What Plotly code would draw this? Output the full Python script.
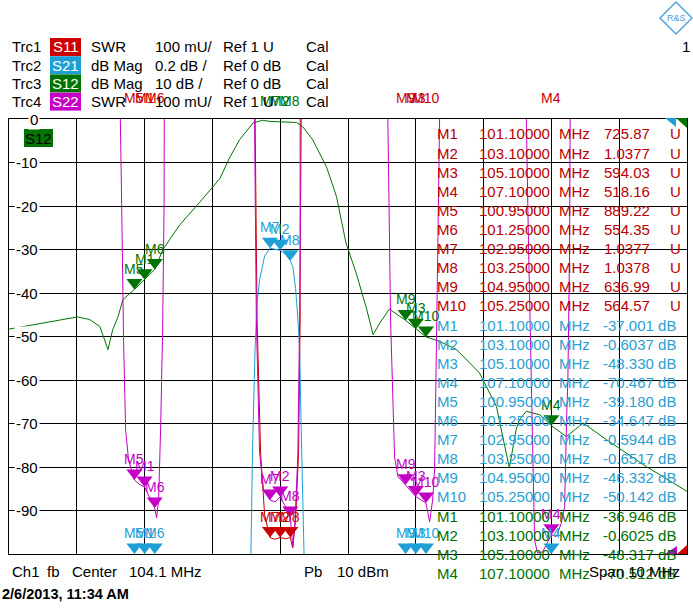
import numpy as np
import plotly.graph_objects as go

# ---------------- instrument / screen settings ----------------
F_CENTER = 104.1      # MHz
F_SPAN = 10.0         # MHz
F_START = F_CENTER - F_SPAN / 2
F_STOP = F_CENTER + F_SPAN / 2
Y_TOP, Y_BOT = 0.0, -100.0
Y_LABELS = [0, -10, -20, -30, -40, -50, -60, -70, -80, -90]

# ---------------- traces ----------------
# Trc3  S12  dB Mag 10 dB/div  Ref 0 dB (top)
s12_freq = [99.10, 99.60, 100.11, 100.29, 100.44, 100.56, 100.63, 100.71, 100.78, 100.95,
            101.10, 101.25, 101.37, 101.62, 101.91, 102.10, 102.21, 102.35, 102.50, 102.70,
            102.84, 102.95, 103.10, 103.25, 103.34, 103.43, 103.58, 103.78, 103.93, 104.07,
            104.22, 104.37, 104.47, 104.57, 104.71, 104.95, 105.10, 105.25, 105.45, 105.70,
            106.04, 106.29, 106.34, 106.39, 106.48, 106.58, 106.63, 106.73, 106.93, 107.10,
            107.32, 107.57, 107.91, 108.50, 109.10]
s12_db = [-48.3, -46.9, -45.5, -46.1, -47.7, -53.0, -48.4, -45.4, -41.5, -39.2,
          -36.95, -34.6, -30.0, -24.3, -19.2, -15.8, -13.7, -9.0, -4.8, -0.9,
          -0.3, -0.55, -0.60, -0.62, -0.8, -1.7, -4.8, -10.9, -17.8, -28.5,
          -35.4, -43.4, -49.6, -46.9, -43.7, -46.3, -48.3, -50.1, -51.1, -53.0,
          -58.4, -66.1, -69.9, -73.7, -80.2, -71.4, -69.1, -67.2, -68.0, -70.5,
          -73.0, -69.9, -73.7, -79.9, -85.6]

# Trc2  S21  dB Mag 0.2 dB/div  Ref 0 dB (top)
s21_freq = [99.10, 102.649, 102.668, 102.693, 102.730, 102.759, 102.796, 102.870, 102.950,
            103.100, 103.171, 103.249, 103.287, 103.327, 103.361, 103.386, 103.408, 103.435,
            103.460, 109.10]
s21_db = [-50.0, -3.0, -2.0, -1.5, -1.05, -0.85, -0.74, -0.63, -0.5944,
          -0.6037, -0.62, -0.6517, -0.68, -0.78, -0.92, -1.05, -1.4, -2.0,
          -3.0, -80.0]

# Trc1  S11  SWR 100 mU/div  Ref 1 U (bottom)
s11_freq = [99.10, 100.95, 101.10, 101.25, 102.00, 102.708, 102.730, 102.759, 102.811, 102.870,
            102.950, 103.017, 103.100, 103.180, 103.249, 103.283, 103.327, 103.371, 103.394,
            103.408, 103.423, 104.00, 104.95, 105.10, 105.25, 107.10, 109.10]
s11_swr = [900.0, 889.22, 725.87, 554.35, 300.0, 3.0, 2.0, 1.538, 1.232, 1.09,
           1.0377, 1.034, 1.0377, 1.035, 1.0378, 1.014, 1.078, 1.232, 1.538,
           2.0, 3.0, 300.0, 636.99, 594.03, 564.57, 518.16, 500.0]

# Trc4  S22  SWR 100 mU/div  Ref 1 U (bottom)
s22_freq = [99.10,
            100.717, 100.742, 100.761, 100.790, 100.820, 100.864, 100.950, 101.025, 101.100,
            101.175, 101.249, 101.277, 101.306, 101.336, 101.366, 101.388, 101.405, 101.424,
            102.00,
            102.700, 102.722, 102.748, 102.796, 102.855, 102.950, 103.025, 103.100, 103.175,
            103.249, 103.287, 103.320, 103.361, 103.386, 103.411, 103.430,
            104.00,
            104.669, 104.688, 104.728, 104.762, 104.787, 104.836, 104.950, 105.100, 105.250,
            105.304, 105.348, 105.377, 105.399, 105.422, 105.451, 105.473,
            106.30,
            106.712, 106.730, 106.764, 106.804, 106.827, 106.852, 106.896, 106.970, 107.100,
            107.172, 107.246, 107.295, 107.324, 107.343, 107.368, 107.394, 107.413,
            109.10]
s22_swr = [60.0,
           3.0, 2.0, 1.814, 1.49, 1.285, 1.216, 1.170, 1.160, 1.154,
           1.13, 1.106, 1.083, 1.124, 1.285, 1.515, 1.814, 2.0, 3.0,
           60.0,
           3.0, 2.0, 1.538, 1.232, 1.147, 1.124, 1.12, 1.131, 1.11,
           1.085, 1.016, 1.078, 1.232, 1.538, 2.0, 3.0,
           60.0,
           3.0, 2.0, 1.538, 1.346, 1.223, 1.178, 1.159, 1.132, 1.117,
           1.074, 1.124, 1.193, 1.423, 1.699, 2.0, 3.0,
           60.0,
           3.0, 2.0, 1.699, 1.40, 1.170, 1.032, 1.002, 1.005, 1.044,
           1.040, 1.071, 1.109, 1.308, 1.40, 1.70, 2.0, 3.0,
           60.0]

# ---------------- markers ----------------
marker_names = ["M1", "M2", "M3", "M4", "M5", "M6", "M7", "M8", "M9", "M10"]
marker_freq = [101.1, 103.1, 105.1, 107.1, 100.95, 101.25, 102.95, 103.25, 104.95, 105.25]
trc1_marker_swr = [725.87, 1.0377, 594.03, 518.16, 889.22, 554.35, 1.0377, 1.0378, 636.99, 564.57]
trc2_marker_db = [-37.001, -0.6037, -48.330, -70.467, -39.180, -34.647, -0.5944, -0.6517, -46.332, -50.142]
trc3_marker_db = [-36.946, -0.6025, -48.317, -70.512, -39.2, -34.6, -0.58, -0.64, -46.3, -50.1]
trc4_marker_swr = [1.154, 1.131, 1.132, 1.044, 1.170, 1.106, 1.124, 1.085, 1.159, 1.117]
trc3_rows_shown = 4

# ---------------- header texts ----------------
trc_names = ["Trc1", "Trc2", "Trc3", "Trc4"]
trc_params = ["S11", "S21", "S12", "S22"]
trc_formats = ["SWR", "dB Mag", "dB Mag", "SWR"]
trc_scales = ["100 mU/", "0.2 dB /", "10 dB /", "100 mU/"]
trc_refs = ["Ref 1 U", "Ref 0 dB", "Ref 0 dB", "Ref 1 U"]
trc_cal = ["Cal", "Cal", "Cal", "Cal"]

# ---------------- style ----------------
RED = "#CC0000"
CYAN = "#1E9FD6"
GREEN = "#007400"
MAGENTA = "#C400C4"
RED_T = "#B80000"
CYAN_T = "#2AA0D2"
GREEN_T = "#007000"
FONT = "Liberation Sans, Arial, sans-serif"
FS = 15

W, H = 693, 611
ML, MR, MT, MB = 9, 6, 119, 57
PW, PH = W - ML - MR, H - MT - MB


def px_x(px):
    return (px - ML) / PW


def px_y(py):
    return (H - MB - py) / PH


def swr_disp(v):  # 100 mU / div, 1 U at bottom line
    return Y_BOT + (np.asarray(v, float) - 1.0) / 0.1 * 10.0


def db_disp(v, per_div):  # ref 0 dB at top line
    return np.asarray(v, float) / per_div * 10.0


def fmt5(v):
    ip = len(str(int(abs(v))))
    return f"{v:.{5 - ip}f}"


fig = go.Figure()

# traces
fig.add_trace(go.Scatter(x=s11_freq, y=swr_disp(s11_swr), mode="lines",
                         line=dict(color=RED, width=1), hoverinfo="skip"))
fig.add_trace(go.Scatter(x=s21_freq, y=db_disp(s21_db, 0.2), mode="lines",
                         line=dict(color=CYAN, width=1), hoverinfo="skip"))
fig.add_trace(go.Scatter(x=s12_freq, y=db_disp(s12_db, 10), mode="lines",
                         line=dict(color=GREEN, width=1), hoverinfo="skip"))
fig.add_trace(go.Scatter(x=s22_freq, y=swr_disp(s22_swr), mode="lines",
                         line=dict(color=MAGENTA, width=1), hoverinfo="skip"))

TRI = 14
tip_units = (TRI / 2) / (PH / (Y_TOP - Y_BOT))


def add_markers(disp, color):
    d = np.clip(np.asarray(disp, float), Y_BOT, Y_TOP)
    fig.add_trace(go.Scatter(x=marker_freq, y=d + tip_units, mode="markers",
                             marker=dict(symbol="triangle-down", size=TRI, color=color,
                                         line=dict(width=0)),
                             cliponaxis=False, hoverinfo="skip"))
    for f, y, name in zip(marker_freq, d, marker_names):
        fig.add_annotation(x=f, y=y, xref="x", yref="y", text=name, showarrow=False,
                           yshift=21, xanchor="center", yanchor="middle",
                           font=dict(family=FONT, size=14, color=color))


add_markers(swr_disp(trc1_marker_swr), RED)
add_markers(db_disp(trc2_marker_db, 0.2), CYAN)
add_markers(db_disp(trc3_marker_db, 10), GREEN)
add_markers(swr_disp(trc4_marker_swr), MAGENTA)

shapes = []
ann = []


def text(px, py, s, color="black", size=FS, anchor="left", bold=False, bg=None):
    d = dict(x=px_x(px), y=px_y(py), xref="paper", yref="paper", text=("<b>%s</b>" % s) if bold else s,
             showarrow=False, xanchor=anchor, yanchor="middle",
             font=dict(family=FONT, size=size, color=color))
    if bg:
        d["bgcolor"] = bg
        d["borderpad"] = 0
    ann.append(d)


# header rows
hdr_colors = [RED, CYAN, GREEN, MAGENTA]
for i in range(4):
    yy = 47 + i * 18.2
    text(10, yy, trc_names[i])
    shapes.append(dict(type="rect", xref="paper", yref="paper",
                       x0=px_x(50), x1=px_x(81), y0=px_y(yy + 9), y1=px_y(yy - 9),
                       fillcolor=hdr_colors[i], line=dict(width=0), layer="below"))
    text(65.5, yy, trc_params[i], color="white", anchor="center")
    text(89, yy, trc_formats[i])
    text(153, yy, trc_scales[i])
    text(221, yy, trc_refs[i])
    text(304, yy, trc_cal[i])

text(680, 47, "1")
# logo
shapes.append(dict(type="path", xref="paper", yref="paper",
                   path="M %f %f L %f %f L %f %f L %f %f Z" % (px_x(676), px_y(2), px_x(692), px_y(18),
                                                               px_x(676), px_y(34), px_x(660), px_y(18)),
                   line=dict(color="#4FA3D9", width=1.5), fillcolor="rgba(0,0,0,0)"))
text(676, 18, "R&S", color="#4FA3D9", size=9, anchor="center")

# S12 label in diagram
shapes.append(dict(type="rect", xref="paper", yref="paper",
                   x0=px_x(24), x1=px_x(53), y0=px_y(147), y1=px_y(129),
                   fillcolor=GREEN, line=dict(width=0), layer="above"))
text(38.5, 138, "S12", color="black", anchor="center")

# reference-position arrows at right edge
for pts, col in [([(665, 118), (676, 118), (676, 127)], CYAN),
                 ([(676, 118), (687, 118), (687, 128)], GREEN),
                 ([(665, 554), (677, 546), (677, 554)], MAGENTA),
                 ([(677, 554), (687, 545), (687, 554)], RED)]:
    p = "M " + " L ".join("%f %f" % (px_x(a), px_y(b)) for a, b in pts) + " Z"
    shapes.append(dict(type="path", xref="paper", yref="paper", path=p,
                       fillcolor=col, line=dict(width=0), layer="above"))

# y labels inside diagram
for v in Y_LABELS:
    ann.append(dict(x=px_x(40), y=v, xref="paper", yref="y", text=str(v), showarrow=False,
                    xanchor="right", yanchor="middle", bgcolor="white", borderpad=1,
                    font=dict(family=FONT, size=FS, color="black")))

# marker table
row = 0
ROW0, DROW = 134, 19.1
for i in range(10):
    yy = ROW0 + row * DROW
    text(435, yy, marker_names[i], color=RED_T)
    text(477, yy, f"{marker_freq[i]:.5f}", color=RED_T)
    text(557, yy, "MHz", color=RED_T)
    text(652, yy, fmt5(trc1_marker_swr[i]), color=RED_T, anchor="right")
    text(668, yy, "U", color=RED_T)
    row += 1
for i in range(10):
    yy = ROW0 + row * DROW
    text(435, yy, marker_names[i], color=CYAN_T)
    text(477, yy, f"{marker_freq[i]:.5f}", color=CYAN_T)
    text(557, yy, "MHz", color=CYAN_T)
    text(678, yy, fmt5(trc2_marker_db[i]) + " dB", color=CYAN_T, anchor="right")
    row += 1
for i in range(trc3_rows_shown):
    yy = ROW0 + row * DROW
    text(435, yy, marker_names[i], color=GREEN_T)
    text(477, yy, f"{marker_freq[i]:.5f}", color=GREEN_T)
    text(557, yy, "MHz", color=GREEN_T)
    text(678, yy, fmt5(trc3_marker_db[i]) + " dB", color=GREEN_T, anchor="right")
    row += 1

# footer
text(10, 571, "Ch1")
text(45, 571, "fb")
text(70, 571, "Center")
text(127, 571, f"{F_CENTER:.1f} MHz")
text(302, 571, "Pb")
text(335, 571, "10 dBm")
text(587, 571, f"Span {F_SPAN:g} MHz")
text(0, 594, "2/6/2013, 11:34 AM", size=14.5, bold=True)

fig.update_layout(
    width=W, height=H,
    margin=dict(l=ML, r=MR, t=MT, b=MB, pad=0),
    paper_bgcolor="white", plot_bgcolor="white",
    showlegend=False,
    shapes=shapes, annotations=list(fig.layout.annotations) + ann,
    xaxis=dict(range=[F_START, F_STOP], tick0=F_START, dtick=F_SPAN / 10, showgrid=True,
               gridcolor="black", gridwidth=1, zeroline=False, showticklabels=False, ticks="",
               showline=True, mirror=True, linecolor="black", linewidth=1, fixedrange=True),
    yaxis=dict(range=[Y_BOT, Y_TOP], tick0=0, dtick=10, showgrid=True,
               gridcolor="black", gridwidth=1, zeroline=False, showticklabels=False, ticks="",
               showline=True, mirror=True, linecolor="black", linewidth=1, fixedrange=True),
)

fig.write_html("out.html", config={"displayModeBar": False},
               post_script="document.body.style.margin='0';")
